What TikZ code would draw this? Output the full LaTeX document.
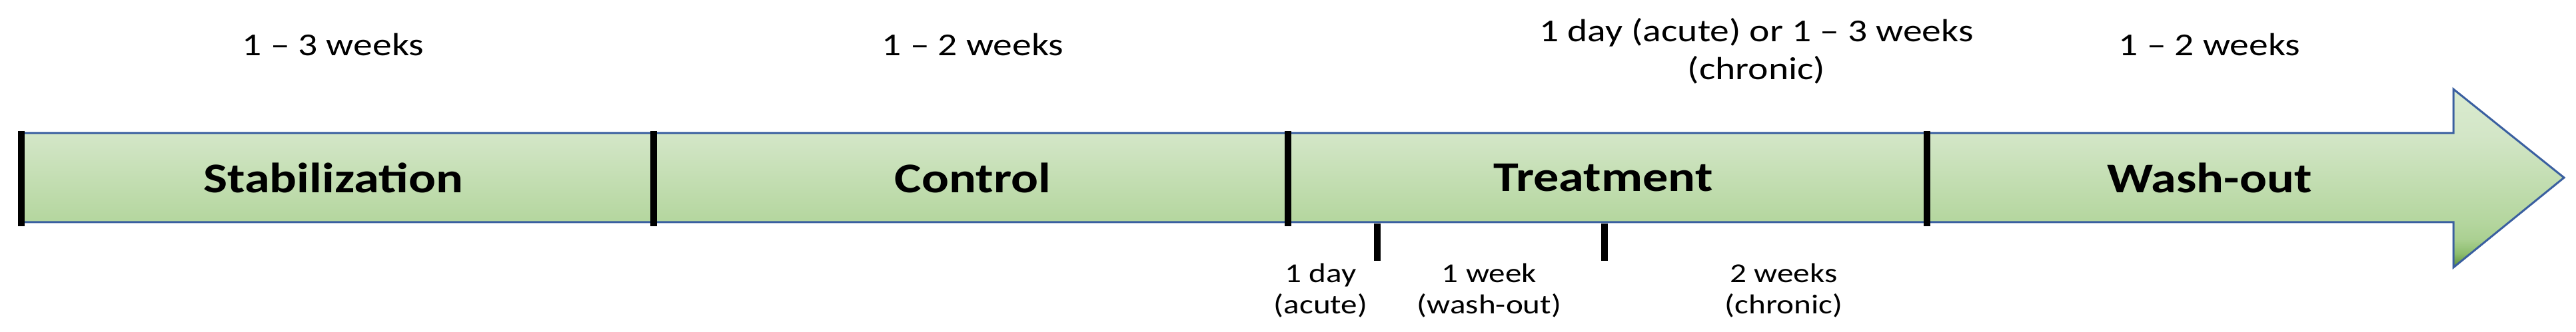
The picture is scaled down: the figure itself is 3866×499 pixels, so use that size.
\documentclass[tikz,border=0pt]{standalone}
\usepackage{fontspec}
\setmainfont{Carlito}[FakeStretch=1.2]
\definecolor{edgeblue}{HTML}{3A5FA0}
\definecolor{gA}{HTML}{5A8C38}
\definecolor{gB}{HTML}{8EBE70}
\definecolor{gC}{HTML}{ABD092}
\definecolor{gD}{HTML}{B4D69E}
\definecolor{gE}{HTML}{D3E6C7}
\definecolor{gF}{HTML}{DAEBD0}
\pgfdeclareverticalshading{arrowshade}{100bp}{color(0bp)=(gA); color(25bp)=(gA); color(29bp)=(gB); color(33bp)=(gC); color(37.7bp)=(gD); color(62bp)=(gE); color(75bp)=(gF); color(100bp)=(gF)}
\tikzset{
  toplabel/.style={font=\fontsize{12pt}{14.25pt}\selectfont, align=center, inner sep=0pt},
  phaselabel/.style={font=\fontsize{15.9pt}{18pt}\selectfont\bfseries, inner sep=0pt},
  sublabel/.style={font=\fontsize{10.25pt}{11.75pt}\selectfont, align=center, inner sep=0pt},
  phasebar/.style={line width=2.6pt, black},
  tickbar/.style={line width=2.3pt, black},
}
\begin{document}
\begin{tikzpicture}[x=0.25pt, y=-0.25pt]
\useasboundingbox (0,0) rectangle (3866,499);
% arrow shape
\path[shading=arrowshade, draw=edgeblue, line width=0.75pt, line join=miter]
  (32,200) -- (3682,200) -- (3682,134) -- (3848,267) -- (3682,402) -- (3682,334) -- (32,334) -- cycle;
% phase boundaries
\coordinate (b0t) at (32,197);   \coordinate (b0b) at (32,340);
\coordinate (b1t) at (981,197);  \coordinate (b1b) at (981,340);
\coordinate (b2t) at (1933,197); \coordinate (b2b) at (1933,340);
\coordinate (b3t) at (2892,197); \coordinate (b3b) at (2892,340);
\draw[phasebar] (b0t) -- (b0b);
\draw[phasebar] (b1t) -- (b1b);
\draw[phasebar] (b2t) -- (b2b);
\draw[phasebar] (b3t) -- (b3b);
% small ticks
\coordinate (t1t) at (2067,336); \coordinate (t1b) at (2067,392);
\coordinate (t2t) at (2408,336); \coordinate (t2b) at (2408,392);
\draw[tickbar] (t1t) -- (t1b);
\draw[tickbar] (t2t) -- (t2b);
% phase names
\node[phaselabel] (stab) at (500,267) {Stabilization};
\node[phaselabel] (ctrl) at (1460,267) {Control};
\node[phaselabel] (treat) at (2406,267) {Treatment};
\node[phaselabel] (wash) at (3316,267) {Wash-out};
% durations
\node[toplabel] (d1) at (500,67) {1 – 3 weeks};
\node[toplabel] (d2) at (1460,67) {1 – 2 weeks};
\node[toplabel] (d3) at (2636,77) {1 day (acute) or 1 – 3 weeks\\(chronic)};
\node[toplabel] (d4) at (3316,67) {1 – 2 weeks};
% sub-periods
\node[sublabel] (s1) at (1982,437) {1 day\\(acute)};
\node[sublabel] (s2) at (2235,437) {1 week\\(wash-out)};
\node[sublabel] (s3) at (2677,437) {2 weeks\\(chronic)};
\end{tikzpicture}
\end{document}
